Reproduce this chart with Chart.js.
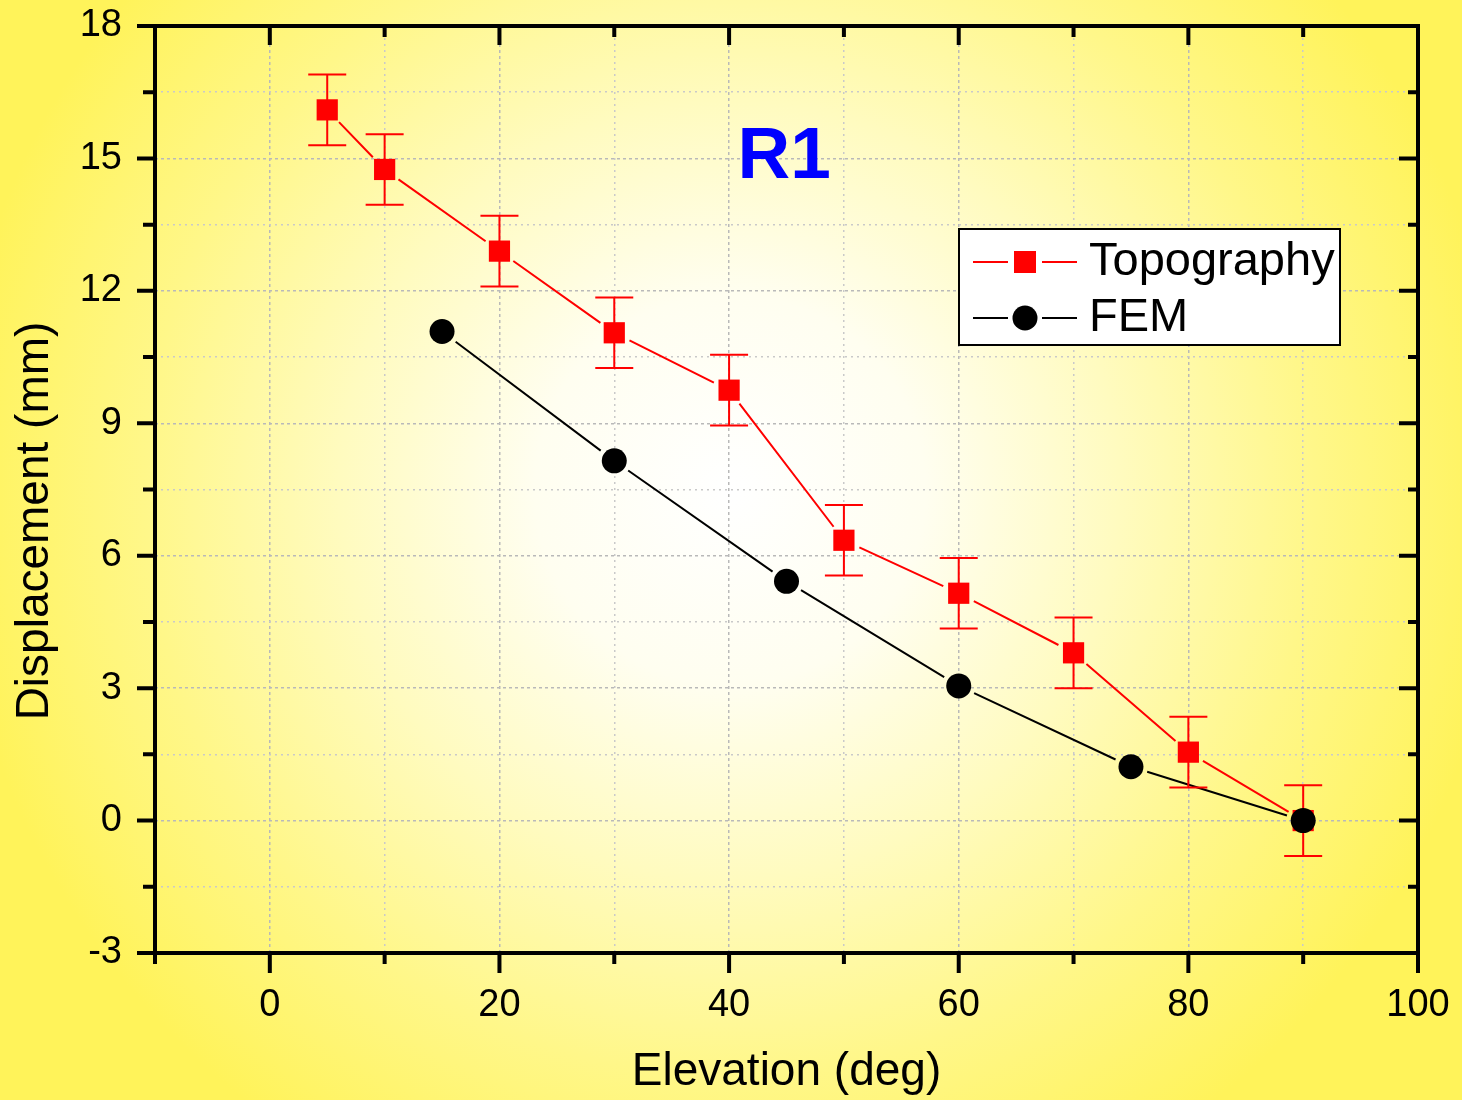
<!DOCTYPE html>
<html>
<head>
<meta charset="utf-8">
<title>R1 – Displacement vs Elevation</title>
<script src="https://cdn.jsdelivr.net/npm/chart.js@4.4.1/dist/chart.umd.min.js"></script>
<style>
  html, body { margin: 0; padding: 0; background: #fff35a; }
  #wrap { width: 1462px; height: 1100px; }
</style>
</head>
<body>
<div id="wrap"><canvas id="dispChart" width="1462" height="1100"></canvas></div>
<script>
// -----------------------------------------
// DATA
// -----------------------------------------
const topoElev = [5, 10, 20, 30, 40, 50, 60, 70, 80, 90];
const topoDisp = [16.1, 14.75, 12.9, 11.05, 9.75, 6.35, 5.15, 3.8, 1.55, 0];
const topoErr  = [0.8, 0.8, 0.8, 0.8, 0.8, 0.8, 0.8, 0.8, 0.8, 0.8];

const femElev = [15, 30, 45, 60, 75, 90];
const femDisp = [11.08, 8.15, 5.42, 3.05, 1.22, 0];

// axis ranges / tick steps (labels only on the major steps)
const xRange = [-10, 100];
const xStep  = 10;
const xMajor = 20;
const yRange = [-3, 18];
const yStep  = 1.5;
const yMajor = 3;

const FONT = "'Liberation Sans', Arial, sans-serif";

function isMajor(v, m) {
  const r = Math.abs(v % m);
  return r < 1e-6 || Math.abs(r - m) < 1e-6;
}

// keep the plot box exactly where the layout padding puts it
function fixBox(s) {
  s.paddingTop = 0;
  s.paddingBottom = 0;
  s.paddingLeft = 0;
  s.paddingRight = 0;
}

// -----------------------------------------
// PLUGIN: radial yellow glow behind everything
// -----------------------------------------
const glowBackground = {
  id: 'glowBackground',
  beforeDraw(chart) {
    const { ctx, width, height } = chart;
    const g = ctx.createRadialGradient(730, 490, 0, 730, 490, 780);
    g.addColorStop(0.0, '#ffffff');
    g.addColorStop(0.25, '#fffef0');
    g.addColorStop(0.5, '#fffbbf');
    g.addColorStop(0.75, '#fff789');
    g.addColorStop(1.0, '#fff35a');
    ctx.save();
    ctx.fillStyle = g;
    ctx.fillRect(0, 0, width, height);
    ctx.restore();
  }
};

// -----------------------------------------
// PLUGIN: connecting lines that stop short of each marker
// -----------------------------------------
const gapLines = {
  id: 'gapLines',
  beforeDatasetsDraw(chart) {
    const { ctx } = chart;
    chart.data.datasets.forEach((ds, i) => {
      if (!ds.gapLine) return;
      const pts = chart.getDatasetMeta(i).data;
      ctx.save();
      ctx.strokeStyle = ds.lineColor;
      ctx.lineWidth = ds.lineWidth;
      ctx.beginPath();
      for (let k = 1; k < pts.length; k++) {
        const a = pts[k - 1], b = pts[k];
        const dx = b.x - a.x, dy = b.y - a.y;
        const len = Math.hypot(dx, dy);
        if (len <= 2 * ds.gapLine) continue;
        const ux = dx / len, uy = dy / len;
        ctx.moveTo(a.x + ux * ds.gapLine, a.y + uy * ds.gapLine);
        ctx.lineTo(b.x - ux * ds.gapLine, b.y - uy * ds.gapLine);
      }
      ctx.stroke();
      ctx.restore();
    });
  }
};

// -----------------------------------------
// PLUGIN: vertical error bars with caps
// -----------------------------------------
const errorBars = {
  id: 'errorBars',
  beforeDatasetsDraw(chart) {
    const { ctx } = chart;
    const yScale = chart.scales.y;
    chart.data.datasets.forEach((ds, i) => {
      if (!ds.errors) return;
      const pts = chart.getDatasetMeta(i).data;
      ctx.save();
      ctx.strokeStyle = ds.lineColor;
      ctx.lineWidth = 2;
      ctx.beginPath();
      pts.forEach((p, k) => {
        const v = ds.data[k].y, e = ds.errors[k];
        const yTop = yScale.getPixelForValue(v + e);
        const yBot = yScale.getPixelForValue(v - e);
        ctx.moveTo(p.x, yTop); ctx.lineTo(p.x, yBot);
        ctx.moveTo(p.x - 19, yTop); ctx.lineTo(p.x + 19, yTop);
        ctx.moveTo(p.x - 19, yBot); ctx.lineTo(p.x + 19, yBot);
      });
      ctx.stroke();
      ctx.restore();
    });
  }
};

// -----------------------------------------
// PLUGIN: frame, tick marks, y title, R1 tag and legend box
// -----------------------------------------
const frameAndLegend = {
  id: 'frameAndLegend',
  afterDraw(chart) {
    const { ctx, chartArea: a, scales: { x, y } } = chart;
    ctx.save();

    // ticks: out on left/bottom, in on top/right
    ctx.strokeStyle = '#000';
    ctx.lineWidth = 4;
    ctx.beginPath();
    x.ticks.forEach(t => {
      const px = x.getPixelForValue(t.value);
      const major = isMajor(t.value, xMajor);
      ctx.moveTo(px, a.bottom); ctx.lineTo(px, a.bottom + (major ? 20 : 11));
      ctx.moveTo(px, a.top);    ctx.lineTo(px, a.top + (major ? 19 : 11));
    });
    y.ticks.forEach(t => {
      const py = y.getPixelForValue(t.value);
      const major = isMajor(t.value, yMajor);
      ctx.moveTo(a.left, py);  ctx.lineTo(a.left - (major ? 18 : 12), py);
      ctx.moveTo(a.right, py); ctx.lineTo(a.right - (major ? 19 : 10), py);
    });
    ctx.stroke();
    ctx.strokeRect(a.left, a.top, a.right - a.left, a.bottom - a.top);

    // y axis title
    ctx.fillStyle = '#000';
    ctx.font = `46px ${FONT}`;
    ctx.textAlign = 'center';
    ctx.textBaseline = 'middle';
    ctx.translate(35, 521);
    ctx.rotate(-Math.PI / 2);
    ctx.fillText('Displacement (mm)', 0, 0);
    ctx.setTransform(1, 0, 0, 1, 0, 0);

    // R1 tag
    ctx.fillStyle = '#0000ff';
    ctx.font = `bold 73px ${FONT}`;
    ctx.textBaseline = 'alphabetic';
    ctx.fillText('R1', x.getPixelForValue(44.8), y.getPixelForValue(14.55));

    // legend box
    const bx = a.right - 459, by = a.top + 203, bw = 381, bh = 116;
    ctx.fillStyle = '#ffffff';
    ctx.fillRect(bx, by, bw, bh);
    ctx.lineWidth = 2;
    ctx.strokeStyle = '#000';
    ctx.strokeRect(bx, by, bw, bh);

    const rows = [by + 33, by + 89];
    chart.data.datasets.forEach((ds, i) => {
      const ry = rows[i], mx = bx + 66;
      ctx.strokeStyle = ds.lineColor;
      ctx.lineWidth = ds.lineWidth;
      ctx.beginPath();
      ctx.moveTo(bx + 14, ry); ctx.lineTo(mx - 17, ry);
      ctx.moveTo(mx + 17, ry); ctx.lineTo(bx + 118, ry);
      ctx.stroke();
      ctx.fillStyle = ds.backgroundColor;
      ctx.beginPath();
      if (ds.pointStyle === 'rect') ctx.rect(mx - 11, ry - 11, 22, 22);
      else ctx.arc(mx, ry, 12.5, 0, Math.PI * 2);
      ctx.fill();
      ctx.fillStyle = '#000';
      ctx.font = `47px ${FONT}`;
      ctx.textAlign = 'left';
      ctx.textBaseline = 'middle';
      ctx.fillText(ds.label, bx + 130, ry);
    });
    ctx.restore();
  }
};

// -----------------------------------------
// CHART
// -----------------------------------------
const gridColor = c => isMajor(c.tick.value, c.scale.axis === 'x' ? xMajor : yMajor) ? '#b9b9b9' : '#c9c9c9';
const gridDash  = c => isMajor(c.tick.value, c.scale.axis === 'x' ? xMajor : yMajor) ? [3, 3] : [2, 4];

new Chart(document.getElementById('dispChart'), {
  type: 'scatter',
  data: {
    datasets: [
      {
        label: 'Topography',
        data: topoElev.map((v, i) => ({ x: v, y: topoDisp[i] })),
        errors: topoErr,
        gapLine: 17,
        lineColor: '#ff0000',
        lineWidth: 2,
        pointStyle: 'rect',
        pointRadius: 15,
        pointHoverRadius: 15,
        pointBorderWidth: 0,
        backgroundColor: '#ff0000',
        borderColor: '#ff0000',
        order: 2
      },
      {
        label: 'FEM',
        data: femElev.map((v, i) => ({ x: v, y: femDisp[i] })),
        gapLine: 17,
        lineColor: '#000000',
        lineWidth: 2,
        pointStyle: 'circle',
        pointRadius: 12.5,
        pointHoverRadius: 12.5,
        pointBorderWidth: 0,
        backgroundColor: '#000000',
        borderColor: '#000000',
        order: 1
      }
    ]
  },
  options: {
    responsive: false,
    animation: false,
    events: [],
    layout: { padding: { top: 26, right: 44, left: 0, bottom: 0 } },
    plugins: {
      legend: { display: false },
      tooltip: { enabled: false }
    },
    scales: {
      x: {
        type: 'linear',
        min: xRange[0],
        max: xRange[1],
        afterFit: s => { s.height = 147; fixBox(s); },
        ticks: {
          stepSize: xStep,
          autoSkip: false,
          maxRotation: 0,
          padding: 30,
          color: '#000',
          font: { size: 38, family: FONT },
          callback: v => isMajor(v, xMajor) ? v : ''
        },
        grid: { drawTicks: false, color: gridColor, lineWidth: 1.5 },
        border: { display: false, dash: gridDash },
        title: {
          display: true,
          text: 'Elevation (deg)',
          color: '#000',
          font: { size: 46, family: FONT },
          padding: { top: 0, bottom: 0 }
        }
      },
      y: {
        type: 'linear',
        min: yRange[0],
        max: yRange[1],
        afterFit: s => { s.width = 155; fixBox(s); },
        ticks: {
          stepSize: yStep,
          autoSkip: false,
          padding: 33,
          color: '#000',
          font: { size: 38, family: FONT },
          callback: v => isMajor(v, yMajor) ? v : ''
        },
        grid: { drawTicks: false, color: gridColor, lineWidth: 1.5 },
        border: { display: false, dash: gridDash }
      }
    }
  },
  plugins: [glowBackground, gapLines, errorBars, frameAndLegend]
});
</script>
</body>
</html>
